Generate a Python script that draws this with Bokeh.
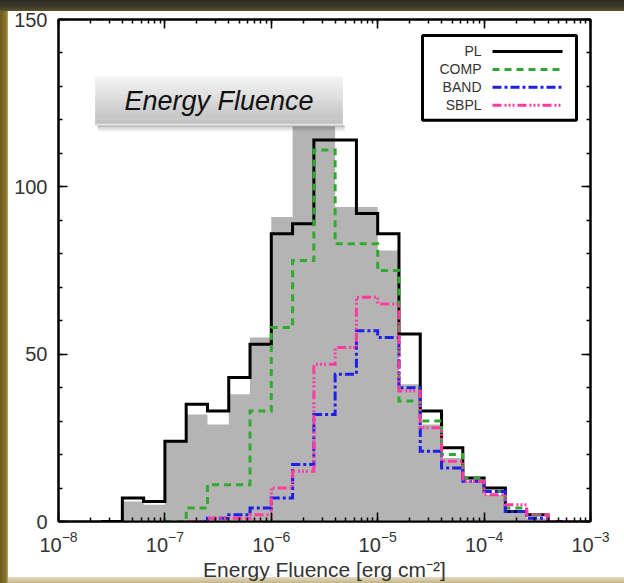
from bokeh.plotting import figure
from bokeh.models import LogAxis, LinearAxis, LogTicker, SingleIntervalTicker, Range1d
from bokeh.embed import file_html
from bokeh.resources import INLINE
from bokeh.core.properties import value

# log10 edges of the 0.2-dex energy-fluence bins
bin_edges_log = [-7.6, -7.4, -7.2, -7.0, -6.8, -6.6, -6.4, -6.2, -6.0, -5.8, -5.6,
                 -5.4, -5.2, -5.0, -4.8, -4.6, -4.4, -4.2, -4.0, -3.8, -3.6, -3.4, -3.2]

# number of bursts per bin
best_counts = [0, 6, 5, 24, 32, 29, 38, 55, 91, 118, 118, 94, 94, 81, 41, 29, 19, 12, 8, 3, 1, 0]
pl_counts = [0, 7, 6, 24, 35, 33, 43, 53, 86, 89, 114, 114, 92, 86, 56, 33, 22, 13, 10, 3, 2, 0]
comp_counts = [0, 0, 0, 0, 4, 11, 11, 33, 58, 78, 111, 83, 83, 75, 36, 30, 20, 13, 9, 4, 2, 0]
band_counts = [0, 0, 0, 0, 0, 1, 2, 4, 7, 17, 32, 44, 57, 55, 40, 21, 16, 12, 9, 3, 1, 0]
sbpl_counts = [0, 0, 0, 0, 0, 1, 1, 2, 10, 15, 47, 52, 67, 65, 39, 28, 18, 12, 8, 5, 2, 0]

model_names = ["PL", "COMP", "BAND", "SBPL"]
x_decades = [-8, -3]
y_limits = [0, 150]

FONT = "Liberation Sans"
TICK_COLOR = "#333333"

X_LO, X_HI = 10.0 ** x_decades[0], 10.0 ** x_decades[1]
Y_LO, Y_HI = y_limits


def fx(f):
    """Frame fraction -> log-axis data value."""
    return 10 ** (x_decades[0] + f * (x_decades[1] - x_decades[0]))


def fy(f):
    """Frame fraction -> linear-axis data value."""
    return Y_LO + f * (Y_HI - Y_LO)


def outline(counts, trim=True):
    nz = [i for i, c in enumerate(counts) if c > 0]
    if trim:
        i0, i1 = max(nz[0] - 1, 0), min(nz[-1] + 1, len(counts) - 1)
    else:
        i0, i1 = 0, len(counts) - 1
    xs, ys = [], []
    for i in range(i0, i1 + 1):
        xs += [10 ** bin_edges_log[i], 10 ** bin_edges_log[i + 1]]
        ys += [counts[i], counts[i]]
    return xs, ys


p = figure(width=624, height=583, x_axis_type="log",
           x_range=Range1d(X_LO, X_HI), y_range=Range1d(Y_LO, Y_HI),
           output_backend="svg", toolbar_location=None,
           min_border_left=58, min_border_right=34,
           min_border_top=19, min_border_bottom=61)

frame_bg = ("linear-gradient(to bottom, #2c2b26 0px, #3f3b2c 7px, #5e5128 11px, rgba(255,255,255,0) 11px) "
            "left top / 100% 12px no-repeat, "
            "linear-gradient(to right, #6c5a1e 0px, #8a7530 6px, #b8a86e 8px, rgba(255,255,255,0) 8px) "
            "left top / 9px 100% no-repeat, "
            "linear-gradient(to bottom, #e2dbc2 0px, #c4b58a 6px) left bottom / 100% 6px no-repeat, "
            "#ffffff")
p.styles = {"background": frame_bg}
p.border_fill_alpha = 0
p.background_fill_color = "white"
p.outline_line_color = "black"
p.outline_line_width = 2
p.xgrid.visible = False
p.ygrid.visible = False

x_ticker = LogTicker(num_minor_ticks=10)
y_ticker = SingleIntervalTicker(interval=50, num_minor_ticks=5)

bottom_axis = p.below[0]
left_axis = p.left[0]
top_axis = LogAxis(ticker=x_ticker)
right_axis = LinearAxis(ticker=y_ticker)
p.add_layout(top_axis, "above")
p.add_layout(right_axis, "right")

bottom_axis.ticker = x_ticker
left_axis.ticker = y_ticker

for ax in [bottom_axis, left_axis, top_axis, right_axis]:
    ax.axis_line_color = "black"
    ax.axis_line_width = 2
    ax.major_tick_line_color = "black"
    ax.major_tick_line_width = 1.5
    ax.minor_tick_line_color = "black"
    ax.minor_tick_line_width = 1.5
    ax.major_tick_in = 9
    ax.major_tick_out = 0
    ax.minor_tick_in = 4
    ax.minor_tick_out = 0
    ax.major_label_text_font = FONT
    ax.major_label_text_font_size = "20px"
    ax.major_label_text_color = TICK_COLOR

for ax in [top_axis, right_axis]:
    ax.major_label_text_font_size = "1px"
    ax.major_label_text_alpha = 0
    ax.major_label_standoff = 0

left_axis.major_label_standoff = 11
bottom_axis.major_label_standoff = 9
bottom_axis.axis_label = "Energy Fluence [erg cm\u207b\u00b2]"
bottom_axis.axis_label_text_font = FONT
bottom_axis.axis_label_text_font_size = "21px"
bottom_axis.axis_label_text_font_style = "normal"
bottom_axis.axis_label_text_color = TICK_COLOR
bottom_axis.axis_label_standoff = 3

# best-model distribution (filled step area)
bx, by = outline(best_counts, trim=False)
p.patch([bx[0]] + bx + [bx[-1]], [0] + by + [0], fill_color="#b4b4b4", line_color=None)

styles = [
    (pl_counts, "black", "solid"),
    (comp_counts, "#2faa2f", "7 5"),
    (band_counts, "#1f1fe6", "9 3 3 3"),
    (sbpl_counts, "#ff3aa0", "9 3 2 2 2 2 2 3"),
]
for counts, color, dash in styles:
    xs, ys = outline(counts)
    p.line(xs, ys, line_color=color, line_width=3, line_dash=dash, line_join="miter")

# caption box with a soft vertical gradient and drop shadow
bx0, bx1 = (95 - 58) / 532, (342 - 58) / 532
by0, by1 = (522 - 125) / 503, (522 - 76) / 503
for k, a in enumerate([0.10, 0.08, 0.06, 0.04]):
    off = (k + 1) * 1.6 / 503
    p.quad(left=fx(bx0 + 0.004), right=fx(bx1 + 0.004), bottom=fy(by0 - off), top=fy(by0),
           fill_color="black", fill_alpha=a, line_color=None)
n_strips = 24
g_top, g_bot = (0xf4, 0xf4, 0xf4), (0xbf, 0xbf, 0xbf)
for i in range(n_strips):
    t = i / (n_strips - 1)
    c = tuple(int(round(g_top[j] + (g_bot[j] - g_top[j]) * t)) for j in range(3))
    top_f = by1 - (by1 - by0) * i / n_strips
    bot_f = by1 - (by1 - by0) * (i + 1) / n_strips
    p.quad(left=fx(bx0), right=fx(bx1), bottom=fy(bot_f), top=fy(top_f),
           fill_color="#%02x%02x%02x" % c, line_color="#%02x%02x%02x" % c, line_width=0.6)
p.quad(left=fx(bx0), right=fx(bx1), bottom=fy(by0), top=fy(by0 + 1.5 / 503),
       fill_color="#e6e6e6", line_color=None)
p.text(x=[fx((bx0 + bx1) / 2)], y=[fy((by0 + by1) / 2)], text=["Energy Fluence"],
       text_font=value(FONT), text_font_size="27px", text_font_style="italic",
       text_color="#111111", text_align="center", text_baseline="middle")

# legend: labels on the left, line samples on the right
lx0, lx1 = (422 - 58) / 532, (576 - 58) / 532
ly0, ly1 = (522 - 120) / 503, (522 - 35) / 503
p.quad(left=fx(lx0), right=fx(lx1), bottom=fy(ly0), top=fy(ly1),
       fill_color="white", line_color="black", line_width=3)
label_x = (481 - 58) / 532
seg_x0, seg_x1 = (492 - 58) / 532, (562 - 58) / 532
row_y = [(522 - yy) / 503 for yy in (51, 69, 87, 105)]
for (counts, color, dash), name, ry in zip(styles, model_names, row_y):
    p.text(x=[fx(label_x)], y=[fy(ry)], text=[name], text_font=value(FONT),
           text_font_size="14px", text_color=TICK_COLOR, text_align="right",
           text_baseline="middle")
    p.line([fx(seg_x0), fx(seg_x1)], [fy(ry), fy(ry)], line_color=color, line_width=3,
           line_dash=dash)

open("out.html", "w").write(file_html(p, INLINE))
